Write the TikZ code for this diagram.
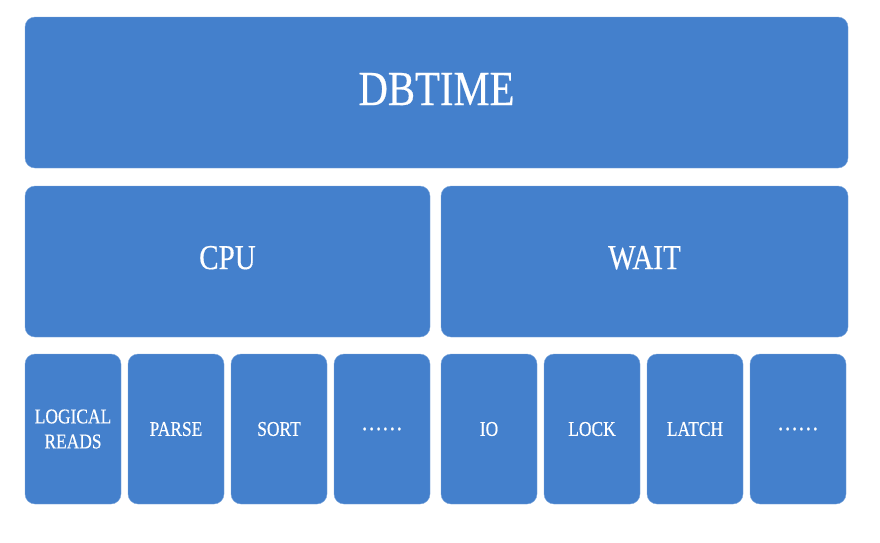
\documentclass[tikz,border=0pt]{standalone}
\usepackage{fontspec}
\setmainfont{Liberation Serif}[FakeStretch=0.83, FakeBold=0.4]
\definecolor{boxblue}{RGB}{68,128,204}
\tikzset{
  blk/.style={fill=boxblue, draw=boxblue!70!white, line width=0.4pt, rounded corners=10pt,
    text=white, inner sep=0pt, align=center},
  leaf/.style={blk, minimum width=96pt, minimum height=150pt, font=\fontsize{21}{25}\selectfont}
}
\newcommand{\dotsfill}{{\fontsize{25}{25}\selectfont ……}}
\begin{document}
\begin{tikzpicture}[x=1pt, y=-1pt]
            \useasboundingbox (0,0) rectangle (880,542);
            \node[blk, minimum width=823pt, minimum height=151pt, text depth=7pt,
              font=\fontsize{49}{60}\selectfont] (dbtime) at (436.5,92.5) {DBTIME};
            \node[blk, minimum width=405pt, minimum height=151pt, text depth=8pt,
              font=\fontsize{35}{42}\selectfont] (cpu) at (227.5,261.5) {CPU};
            \node[blk, minimum width=407pt, minimum height=151pt, text depth=8pt,
              font=\fontsize{35}{42}\selectfont] (wait) at (644.5,261.5) {WAIT};
            \foreach \x/\nm/\txt in {73/c1/{LOGICAL\\READS}, 176/c2/PARSE, 279/c3/SORT, 382/c4/\dotsfill,
                                     489/w1/IO, 592/w2/LOCK, 695/w3/LATCH, 798/w4/\dotsfill}
              \node[leaf] (\nm) at (\x,429) {\txt};
        \end{tikzpicture}
\end{document}
